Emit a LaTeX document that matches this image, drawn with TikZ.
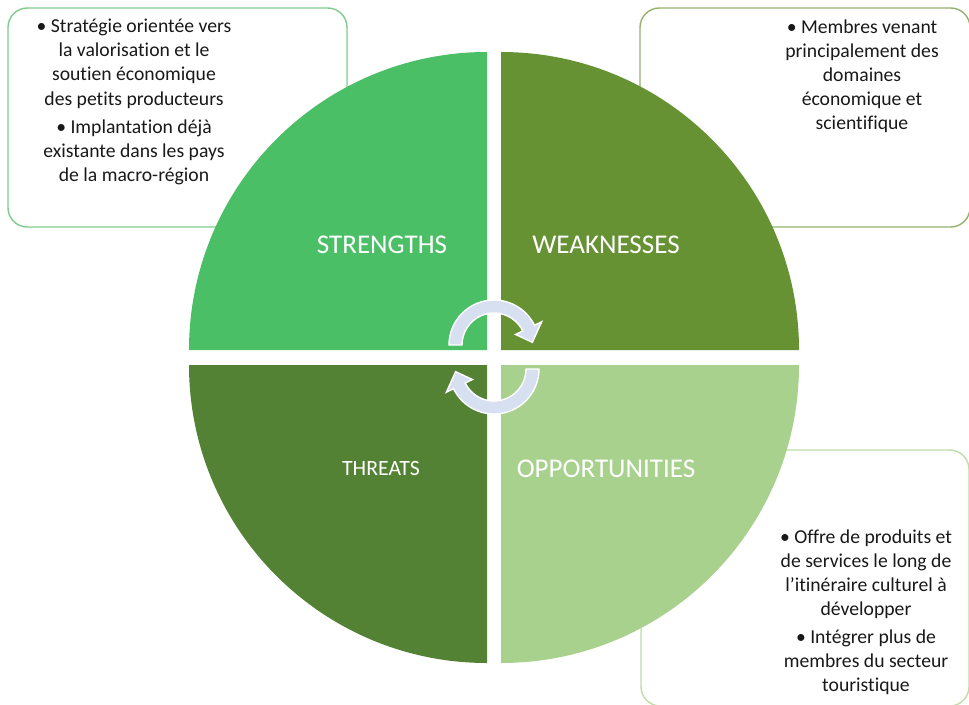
\documentclass[tikz,border=0pt]{standalone}
\usepackage{fontspec}
\setmainfont{Carlito}[Ligatures=NoCommon]
\usetikzlibrary{positioning}

\definecolor{strengthcol}{HTML}{4BBF66}
\definecolor{weakcol}{HTML}{669234}
\definecolor{threatcol}{HTML}{548235}
\definecolor{oppcol}{HTML}{A9D18E}
\definecolor{arrowcol}{HTML}{D6E0F0}
\definecolor{sboxline}{HTML}{80CC8E}
\definecolor{wboxline}{HTML}{93B26C}
\definecolor{oboxline}{HTML}{BEDDA9}

\begin{document}
\begin{tikzpicture}[x=0.02cm, y=0.02cm,
  boxtext/.style={align=center, inner sep=0pt, text=black!90,
    font=\fontsize{11.2}{13.7}\selectfont},
  quadlabel/.style={text=white, inner sep=0pt,
    font=\fontsize{15.4}{18}\selectfont},
  note/.style={rounded corners=11pt, line width=0.8pt, fill=white}]

\useasboundingbox (0,0) rectangle (969,704);

% -- note boxes (behind the circle) --
\draw[note, draw=sboxline] (8,477) rectangle (347,696);
\draw[note, draw=wboxline] (640,477) rectangle (970,696);
\draw[note, draw=oboxline] (641,-2) rectangle (969,254);

% -- quadrants, each a quarter disc round its own corner --
\def\R{298}
\fill[strengthcol] (487,354) -- ++(180:\R) arc[start angle=180, end angle=90, radius=\R] -- cycle;
\fill[weakcol]     (501,354) -- ++(90:\R)  arc[start angle=90,  end angle=0,  radius=\R] -- cycle;
\fill[threatcol]   (487,339) -- ++(180:\R) arc[start angle=180, end angle=270, radius=\R] -- cycle;
\fill[oppcol]      (501,339) -- ++(270:\R) arc[start angle=270, end angle=360, radius=\R] -- cycle;

% -- quadrant labels --
\node[quadlabel] (strengths) at (382,459) {STRENGTHS};
\node[quadlabel] (weaknesses) at (606,459) {WEAKNESSES};
\node[quadlabel] (opportunities) at (606,235) {OPPORTUNITIES};
\node[quadlabel, font=\fontsize{12.4}{14}\selectfont] (threats) at (381,235) {THREATS};

% -- circular arrows in the middle --
\foreach \cx/\cy/\rot in {494/359/0, 494/335/180} {
  \begin{scope}[shift={(\cx,\cy)}, rotate=\rot]
    \filldraw[fill=arrowcol, draw=white, line width=0.8pt]
      (180:45) arc[start angle=180, end angle=26, radius=45]
      -- (26:53) -- (4:38.5) -- (26:24) -- (26:32)
      arc[start angle=26, end angle=180, radius=32] -- cycle;
  \end{scope}
}

% -- note texts --
\node[boxtext] (stext) at (134,602) {%
  \textbullet{} Stratégie orientée vers\\ la valorisation et le\\ soutien économique\\ des petits producteurs\\[2.3pt]
  \textbullet{} Implantation déjà\\ existante dans les pays\\ de la macro-région};
\node[boxtext] (wtext) at (862,628) {%
  \textbullet{} Membres venant\\ principalement des\\ domaines\\ économique et\\ scientifique};
\node[boxtext] (otext) at (866,92) {%
  \textbullet{} Offre de produits et\\ de services le long de\\ l’itinéraire culturel à\\ développer\\[2.3pt]
  \textbullet{} Intégrer plus de\\ membres du secteur\\ touristique};

\end{tikzpicture}
\end{document}
